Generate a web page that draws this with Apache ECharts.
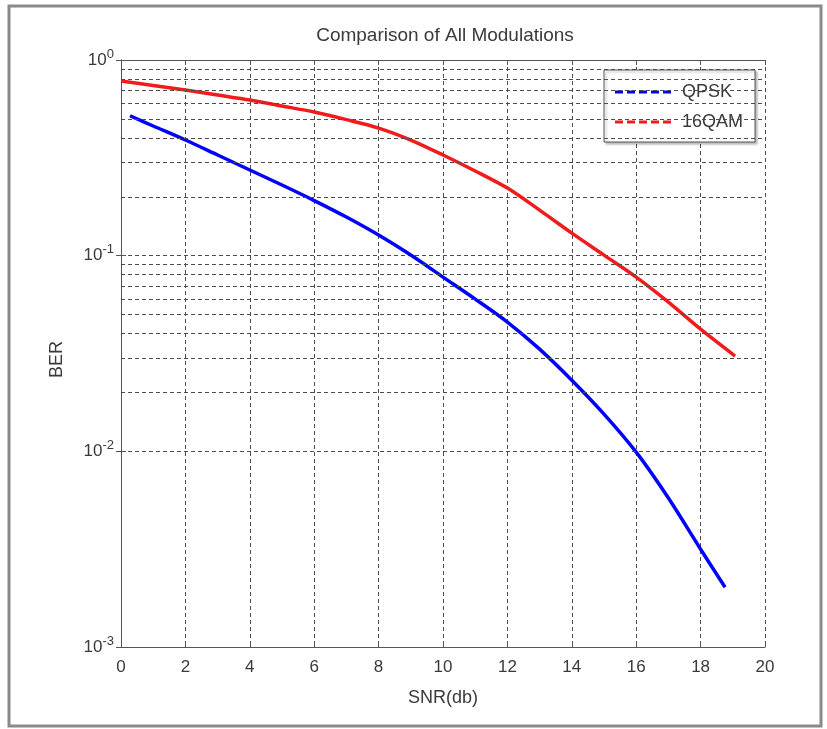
<!DOCTYPE html>
<html>
<head>
<meta charset="utf-8">
<script src="https://cdn.jsdelivr.net/npm/echarts@6/dist/echarts.min.js"></script>
<style>
  html, body { margin: 0; padding: 0; background: #fff; }
  #chart { width: 827px; height: 729px; }
</style>
</head>
<body>
<div id="chart"></div>
<script>
// values
const qpskSnr = [0.28, 1, 2, 3, 4, 5, 6, 7, 8, 9, 10, 11, 12, 13, 14, 15, 16, 17, 18, 18.76];
const qpskBer = [0.519, 0.46, 0.39, 0.327, 0.274, 0.2296, 0.1912, 0.1575, 0.1274, 0.1007, 0.0777,
  0.06, 0.0458, 0.0333, 0.0231, 0.0155, 0.0099, 0.00577, 0.00316, 0.00202];
const qamSnr = [0, 1, 2, 3, 4, 5, 6, 7, 8, 9, 10, 11, 12, 13, 14, 15, 16, 17, 18, 19.07];
const qamBer = [0.781, 0.741, 0.702, 0.662, 0.624, 0.582, 0.542, 0.496, 0.449, 0.39, 0.327,
  0.271, 0.2216, 0.171, 0.1304, 0.1007, 0.0777, 0.0579, 0.0421, 0.0307];
const seriesNames = ['QPSK', '16QAM'];
const minorGrid = [
  0.002, 0.003, 0.004, 0.005, 0.006, 0.007, 0.008, 0.009,
  0.02, 0.03, 0.04, 0.05, 0.06, 0.07, 0.08, 0.09,
  0.2, 0.3, 0.4, 0.5, 0.6, 0.7, 0.8, 0.9
];

const font = 'Liberation Sans, Arial, sans-serif';
const txt = '#3a3a3a';
const gridDash = { color: '#4d4d4d', width: 1, type: [4, 3] };
const dashIcon = 'path://M0,0h8v3h-8z M12,0h8v3h-8z M24,0h8v3h-8z M36,0h8v3h-8z M48,0h8v3h-8z';

const zip = (xs, ys) => xs.map((x, i) => [x, ys[i]]);

const chart = echarts.init(document.getElementById('chart'));

chart.setOption({
  backgroundColor: '#fff',
  animation: false,
  textStyle: { fontFamily: font },
  graphic: [{
    type: 'rect',
    shape: { x: 9, y: 6, width: 812, height: 720 },
    style: { fill: 'none', stroke: '#8a8a8a', lineWidth: 3 },
    silent: true
  }],
  title: {
    text: 'Comparison of All Modulations',
    left: 440,
    textAlign: 'center',
    top: 21,
    textStyle: { fontSize: 19, fontWeight: 'normal', color: txt, fontFamily: font }
  },
  legend: {
    orient: 'vertical',
    left: 604,
    top: 70,
    data: seriesNames,
    icon: dashIcon,
    itemWidth: 56,
    itemHeight: 3,
    itemGap: 12,
    padding: [13, 12, 11, 11],
    backgroundColor: '#fff',
    borderColor: '#555',
    borderWidth: 1,
    shadowColor: 'rgba(0,0,0,0.25)',
    shadowOffsetX: 2,
    shadowOffsetY: 2,
    shadowBlur: 2,
    textStyle: { fontSize: 18, color: txt, padding: [0, 0, 0, 6], lineHeight: 18, fontFamily: font }
  },
  grid: { left: 121, right: 62, top: 60, bottom: 82 },
  xAxis: [{
    type: 'value',
    min: 0,
    max: 20,
    interval: 2,
    name: 'SNR(db)',
    nameLocation: 'middle',
    nameGap: 42,
    nameTextStyle: { fontSize: 18, color: txt },
    axisLine: { lineStyle: { color: '#555', width: 1 } },
    axisTick: { inside: true, length: 5, lineStyle: { color: '#555' } },
    axisLabel: { fontSize: 17, color: txt, margin: 12 },
    splitLine: { show: true, lineStyle: gridDash }
  }, {
    type: 'value',
    position: 'top',
    min: 0,
    max: 20,
    interval: 2,
    axisLine: { show: true, lineStyle: { color: '#555', width: 1 } },
    axisTick: { show: true, inside: true, length: 5, lineStyle: { color: '#555' } },
    axisLabel: { show: false },
    splitLine: { show: false }
  }],
  yAxis: [{
    type: 'log',
    logBase: 10,
    min: 0.001,
    max: 1,
    name: 'BER',
    nameLocation: 'middle',
    nameRotate: 90,
    nameGap: 55,
    nameTextStyle: { fontSize: 18, color: txt, padding: [0, 12, 0, 0] },
    axisLine: { show: true, lineStyle: { color: '#555', width: 1 } },
    axisTick: { show: true, inside: true, length: 5, lineStyle: { color: '#555' } },
    axisLabel: {
      margin: 7,
      formatter: v => '{b|10}{s|' + Math.round(Math.log10(v)) + '}',
      rich: {
        b: { fontSize: 17, color: txt, fontFamily: font },
        s: { fontSize: 13, color: txt, fontFamily: font, padding: [0, 0, 12, 0] }
      }
    },
    splitLine: { show: true, lineStyle: gridDash }
  }, {
    type: 'log',
    logBase: 10,
    min: 0.001,
    max: 1,
    position: 'right',
    axisLine: { show: true, lineStyle: { color: '#555', width: 1 } },
    axisTick: { show: true, inside: true, length: 5, lineStyle: { color: '#555' } },
    axisLabel: { show: false },
    splitLine: { show: false }
  }],
  series: [{
    name: 'minor',
    type: 'line',
    data: [],
    z: 1,
    silent: true,
    markLine: {
      silent: true,
      symbol: 'none',
      label: { show: false },
      lineStyle: gridDash,
      data: minorGrid.map(v => ({ yAxis: v }))
    }
  }, {
    name: seriesNames[0],
    type: 'line',
    data: zip(qpskSnr, qpskBer),
    smooth: 0.3,
    showSymbol: false,
    z: 3,
    color: '#0000ff',
    lineStyle: { width: 3.5, color: '#0000ff' }
  }, {
    name: seriesNames[1],
    type: 'line',
    data: zip(qamSnr, qamBer),
    smooth: 0.3,
    showSymbol: false,
    z: 3,
    color: '#f01c1c',
    lineStyle: { width: 3.5, color: '#f01c1c' }
  }]
});
</script>
</body>
</html>
